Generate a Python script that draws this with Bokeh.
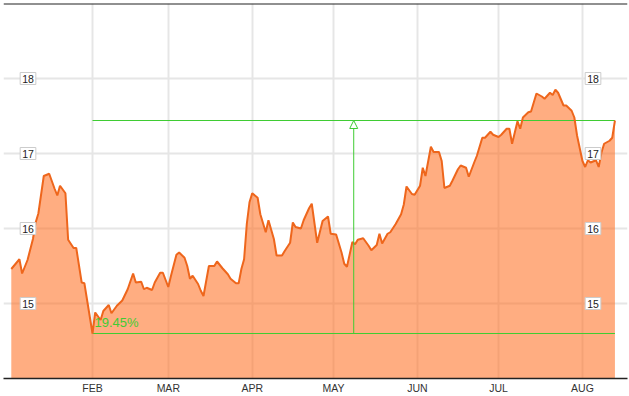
import pandas as pd
from bokeh.plotting import figure
from bokeh.models import Range1d, FixedTicker, Label, Span, Arrow, NormalHead
from bokeh.embed import file_html
from bokeh.resources import INLINE

dates = [
    "2013-01-02", "2013-01-05", "2013-01-06", "2013-01-08", "2013-01-10", "2013-01-11",
    "2013-01-12", "2013-01-14", "2013-01-16", "2013-01-18", "2013-01-19", "2013-01-20",
    "2013-01-22", "2013-01-23", "2013-01-25", "2013-01-26", "2013-01-28", "2013-01-29",
    "2013-02-01", "2013-02-02", "2013-02-04", "2013-02-05", "2013-02-07", "2013-02-08",
    "2013-02-10", "2013-02-12", "2013-02-14", "2013-02-16", "2013-02-17", "2013-02-19",
    "2013-02-20", "2013-02-21", "2013-02-23", "2013-02-24", "2013-02-26", "2013-02-27",
    "2013-03-01", "2013-03-02", "2013-03-04", "2013-03-05", "2013-03-07", "2013-03-08",
    "2013-03-09", "2013-03-10", "2013-03-12", "2013-03-13", "2013-03-14", "2013-03-16",
    "2013-03-18", "2013-03-19", "2013-03-21", "2013-03-23", "2013-03-24", "2013-03-26",
    "2013-03-27", "2013-03-28", "2013-03-29", "2013-03-30", "2013-03-31", "2013-04-01",
    "2013-04-03", "2013-04-04", "2013-04-06", "2013-04-07", "2013-04-09", "2013-04-10",
    "2013-04-12", "2013-04-13", "2013-04-15", "2013-04-16", "2013-04-17", "2013-04-19",
    "2013-04-20", "2013-04-22", "2013-04-23", "2013-04-25", "2013-04-27", "2013-04-29",
    "2013-04-30", "2013-05-02", "2013-05-04", "2013-05-05", "2013-05-06", "2013-05-08",
    "2013-05-09", "2013-05-10", "2013-05-12", "2013-05-14", "2013-05-15", "2013-05-17",
    "2013-05-18", "2013-05-19", "2013-05-21", "2013-05-22", "2013-05-24", "2013-05-26",
    "2013-05-27", "2013-05-28", "2013-05-30", "2013-05-31", "2013-06-02", "2013-06-03",
    "2013-06-04", "2013-06-06", "2013-06-07", "2013-06-09", "2013-06-10", "2013-06-11",
    "2013-06-13", "2013-06-14", "2013-06-16", "2013-06-17", "2013-06-19", "2013-06-20",
    "2013-06-22", "2013-06-23", "2013-06-25", "2013-06-26", "2013-06-28", "2013-06-29",
    "2013-07-01", "2013-07-02", "2013-07-04", "2013-07-05", "2013-07-06", "2013-07-08",
    "2013-07-09", "2013-07-10", "2013-07-12", "2013-07-13", "2013-07-15", "2013-07-17",
    "2013-07-18", "2013-07-20", "2013-07-21", "2013-07-22", "2013-07-23", "2013-07-25",
    "2013-07-26", "2013-07-28", "2013-07-29", "2013-07-30", "2013-08-01", "2013-08-02",
    "2013-08-03", "2013-08-04", "2013-08-06", "2013-08-07", "2013-08-08", "2013-08-09",
    "2013-08-11", "2013-08-12", "2013-08-13",
]

values = [
    15.46, 15.59, 15.40, 15.58, 15.86, 16.08,
    16.20, 16.70, 16.73, 16.53, 16.44, 16.57,
    16.47, 15.85, 15.74, 15.74, 15.28, 15.27,
    14.60, 14.88, 14.78, 14.90, 14.98, 14.87,
    14.97, 15.04, 15.19, 15.40, 15.28, 15.29,
    15.19, 15.21, 15.18, 15.28, 15.41, 15.41,
    15.22, 15.37, 15.65, 15.68, 15.61, 15.50,
    15.33, 15.37, 15.26, 15.17, 15.10, 15.50,
    15.50, 15.56, 15.47, 15.39, 15.33, 15.27,
    15.27, 15.46, 15.59, 16.06, 16.35, 16.47,
    16.41, 16.19, 15.95, 16.11, 15.86, 15.64,
    15.64, 15.70, 15.81, 16.08, 16.02, 16.00,
    16.11, 16.27, 16.33, 15.81, 16.10, 16.16,
    15.93, 15.92, 15.68, 15.53, 15.49, 15.82,
    15.79, 15.85, 15.87, 15.77, 15.71, 15.78,
    15.93, 15.80, 15.93, 15.95, 16.06, 16.19,
    16.32, 16.56, 16.46, 16.45, 16.57, 16.81,
    16.70, 17.09, 17.02, 17.02, 16.90, 16.54,
    16.57, 16.64, 16.79, 16.84, 16.81, 16.69,
    16.88, 16.97, 17.21, 17.21, 17.29, 17.25,
    17.22, 17.25, 17.33, 17.33, 17.13, 17.43,
    17.33, 17.48, 17.55, 17.56, 17.80, 17.76,
    17.73, 17.81, 17.78, 17.85, 17.81, 17.64,
    17.64, 17.57, 17.48, 17.24, 16.90, 16.82,
    16.91, 16.88, 16.91, 16.82, 17.01, 17.13,
    17.17, 17.21, 17.44,
]

month_ticks = ["2013-02-01", "2013-03-01", "2013-04-01", "2013-05-01",
               "2013-06-01", "2013-07-01", "2013-08-01"]
month_labels = ["FEB", "MAR", "APR", "MAY", "JUN", "JUL", "AUG"]
y_ticks = [15, 16, 17, 18]

# ---------------------------------------------------------------------------
LINE = "#EE661C"
FILL = "#FF6A1A"
GREEN = "#3FCC33"
GRID = "#e6e6e6"

def to_ms(t):
    return pd.Timestamp(t).value / 1e6

dt = pd.to_datetime(dates)
month_ms = [to_ms(t) for t in month_ticks]

PX_PER_DAY = 2.707
FRAME_L, FRAME_T = 3, 3
FRAME_W, FRAME_H = 624, 375
x_start = pd.Timestamp(month_ticks[0]) - pd.Timedelta(days=(92 - FRAME_L) / PX_PER_DAY)
x_end = x_start + pd.Timedelta(days=FRAME_W / PX_PER_DAY)
y_bot, y_top = 14.0, 19.0

p = figure(frame_width=FRAME_W, frame_height=FRAME_H, x_axis_type="datetime",
           y_axis_location=None, toolbar_location=None, output_backend="svg",
           x_range=Range1d(x_start, x_end), y_range=Range1d(y_bot, y_top),
           min_border=0, min_border_left=FRAME_L, min_border_top=FRAME_T,
           min_border_right=2, min_border_bottom=0)
p.outline_line_color = None
p.background_fill_color = "white"
p.border_fill_color = "white"

# grids
p.xaxis.ticker = FixedTicker(ticks=month_ms)
p.xaxis.major_label_overrides = {m: l for m, l in zip(month_ms, month_labels)}
p.xgrid.ticker = FixedTicker(ticks=month_ms)
p.ygrid.ticker = FixedTicker(ticks=y_ticks)
for g in (p.xgrid, p.ygrid):
    g.grid_line_color = GRID
    g.grid_line_width = 2

p.xaxis.axis_line_color = "#222222"
p.xaxis.axis_line_width = 1.5
p.xaxis.major_tick_line_color = None
p.xaxis.minor_tick_line_color = None
p.xaxis.major_tick_out = 0
p.xaxis.major_label_standoff = 3
p.xaxis.major_label_text_font = "Liberation Sans"
p.xaxis.major_label_text_font_size = "10.5px"
p.xaxis.major_label_text_color = "#333333"

# top border
p.add_layout(Span(location=y_top, dimension="width", line_color="#222222", line_width=2))

# area
p.varea(x=dt, y1=y_bot - 1, y2=values, fill_color=FILL, fill_alpha=0.55)

# range annotation (min -> last)
vmin = min(values)
imin = values.index(vmin)
vlast = values[-1]
d_min = dt[imin]
d_last = dt[-1]
d_mid = d_min + (d_last - d_min) / 2
p.segment(x0=[d_min, d_min], y0=[vlast, vmin], x1=[d_last, d_last], y1=[vlast, vmin],
          line_color=GREEN, line_width=1)
p.add_layout(Arrow(end=NormalHead(size=8, line_color=GREEN, line_width=1, fill_color="white"),
                   x_start=to_ms(d_mid), y_start=vmin, x_end=to_ms(d_mid), y_end=vlast,
                   line_color=GREEN, line_width=1))

# price line
p.line(dt, values, line_color=LINE, line_width=2)

pct = (vlast / vmin - 1) * 100
p.add_layout(Label(x=to_ms(d_min), y=vmin, x_offset=2, y_offset=4, text=f"{pct:.2f}%",
                   text_color=GREEN, text_font="Liberation Sans", text_font_size="13px",
                   text_baseline="bottom"))

# y tick labels in boxes, inside the plot on both sides
for v in y_ticks:
    for xs in (27.5, 592.5):
        p.add_layout(Label(x=xs - FRAME_L, x_units="screen", y=v, text=str(v),
                           text_align="center", text_baseline="middle",
                           text_font="Liberation Sans", text_font_size="10.5px",
                           text_color="#222222", background_fill_color="white",
                           border_line_color="#cccccc", padding=2))

open("out.html", "w").write(file_html(p, INLINE))
